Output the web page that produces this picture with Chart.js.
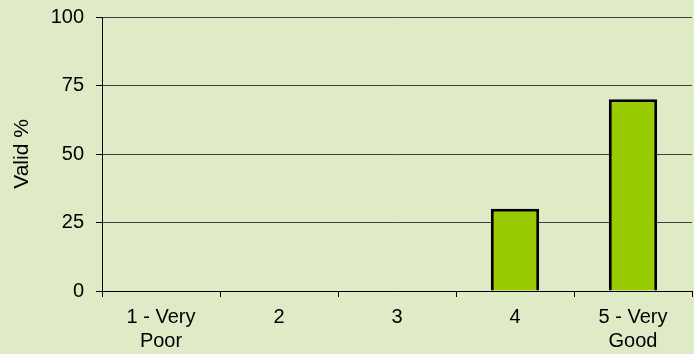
<!DOCTYPE html>
<html>
<head>
<meta charset="utf-8">
<script src="https://cdn.jsdelivr.net/npm/chart.js@4/dist/chart.umd.min.js"></script>
<style>
  html, body { margin: 0; padding: 0; background: #dfebc6; }
  #wrap { width: 694px; height: 354px; }
</style>
</head>
<body>
<div id="wrap"><canvas id="ratingChart"></canvas></div>
<script>
const categories = [['1 - Very', 'Poor'], '2', '3', '4', ['5 - Very', 'Good']];
const validPercent = [0, 0, 0, 30, 70];
const yTicks = [0, 25, 50, 75, 100];

const font = { family: '"Liberation Sans", Arial, sans-serif', size: 20, lineHeight: 1.2 };

new Chart(document.getElementById('ratingChart'), {
  type: 'bar',
  data: {
    labels: categories,
    datasets: [{
      label: 'Valid %',
      data: validPercent,
      backgroundColor: '#99cc00',
      borderColor: '#000000',
      borderWidth: 3,
      barPercentage: 0.41,
      categoryPercentage: 1
    }]
  },
  options: {
    responsive: true,
    maintainAspectRatio: false,
    animation: false,
    layout: { padding: { top: 17, right: 2, left: 0, bottom: 0 } },
    plugins: {
      legend: { display: false },
      tooltip: { enabled: false }
    },
    scales: {
      x: {
        grid: {
          offset: true,
          drawOnChartArea: false,
          drawTicks: true,
          tickLength: 6,
          tickColor: '#000000'
        },
        border: { color: '#000000', width: 1 },
        ticks: { color: '#000000', font: font, padding: 8, maxRotation: 0, autoSkip: false },
        afterFit: (scale) => { scale.height = 63; }
      },
      y: {
        min: 0,
        max: 100,
        afterBuildTicks: (scale) => { scale.ticks = yTicks.map(v => ({ value: v })); },
        grid: {
          color: '#404040',
          lineWidth: 1,
          borderDash: [1, 1],
          tickLength: 6,
          tickColor: '#000000',
          tickBorderDash: []
        },
        border: { color: '#000000', width: 1 },
        ticks: { color: '#000000', font: font, padding: 12 },
        title: {
          display: true,
          text: 'Valid %',
          color: '#000000',
          font: { ...font, size: 21 },
          padding: { top: 10, bottom: 0 }
        },
        afterFit: (scale) => {
          scale.width = 102;
          scale.paddingTop = 0;
          scale.paddingBottom = 0;
        }
      }
    }
  }
});
</script>
</body>
</html>
